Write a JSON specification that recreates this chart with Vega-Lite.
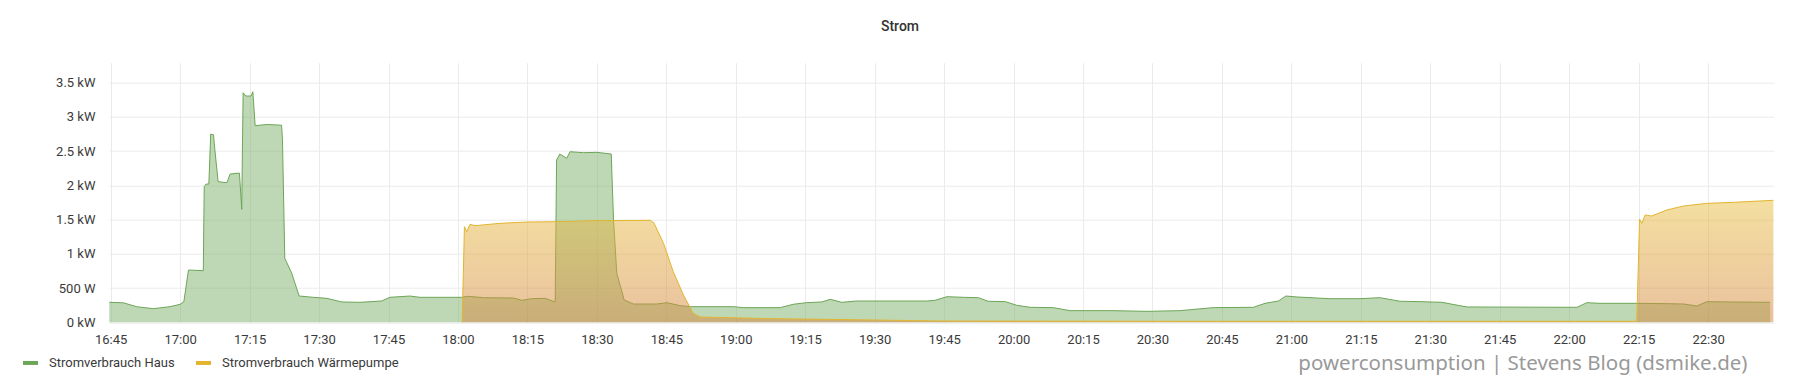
{
  "$schema": "https://vega.github.io/schema/vega-lite/v6.json",
  "width": 1665,
  "height": 259.6,
  "autosize": {"type": "none"},
  "padding": {"left": 109, "top": 62.7, "right": 26, "bottom": 66.7},
  "background": "#ffffff",
  "title": {
    "text": "Strom",
    "anchor": "middle",
    "dx": -41.5,
    "offset": 21.7,
    "baseline": "middle",
    "font": "Roboto",
    "fontSize": 14,
    "fontWeight": 500,
    "color": "#333333"
  },
  "config": {
    "view": {"stroke": null},
    "axis": {
      "labelFont": "Roboto",
      "labelFontSize": 13,
      "labelColor": "#3a3a3a",
      "gridColor": "#ebebeb",
      "gridWidth": 1,
      "domain": false,
      "ticks": false,
      "tickSize": 0
    },
    "legend": {
      "labelFont": "Roboto",
      "labelFontSize": 13,
      "labelColor": "#3a3a3a",
      "labelLimit": 400
    }
  },
  "data": {
    "values": [
      {"time": "2021-01-01T16:44:42", "power": 292, "series": "Stromverbrauch Haus"},
      {"time": "2021-01-01T16:47:42", "power": 285, "series": "Stromverbrauch Haus"},
      {"time": "2021-01-01T16:50:36", "power": 228, "series": "Stromverbrauch Haus"},
      {"time": "2021-01-01T16:54:12", "power": 199, "series": "Stromverbrauch Haus"},
      {"time": "2021-01-01T16:57:48", "power": 228, "series": "Stromverbrauch Haus"},
      {"time": "2021-01-01T17:00:00", "power": 263, "series": "Stromverbrauch Haus"},
      {"time": "2021-01-01T17:00:48", "power": 301, "series": "Stromverbrauch Haus"},
      {"time": "2021-01-01T17:01:48", "power": 764, "series": "Stromverbrauch Haus"},
      {"time": "2021-01-01T17:05:00", "power": 754, "series": "Stromverbrauch Haus"},
      {"time": "2021-01-01T17:05:12", "power": 1981, "series": "Stromverbrauch Haus"},
      {"time": "2021-01-01T17:05:36", "power": 2020, "series": "Stromverbrauch Haus"},
      {"time": "2021-01-01T17:06:12", "power": 2020, "series": "Stromverbrauch Haus"},
      {"time": "2021-01-01T17:06:36", "power": 2751, "series": "Stromverbrauch Haus"},
      {"time": "2021-01-01T17:07:12", "power": 2740, "series": "Stromverbrauch Haus"},
      {"time": "2021-01-01T17:07:30", "power": 2517, "series": "Stromverbrauch Haus"},
      {"time": "2021-01-01T17:08:12", "power": 2054, "series": "Stromverbrauch Haus"},
      {"time": "2021-01-01T17:10:06", "power": 2040, "series": "Stromverbrauch Haus"},
      {"time": "2021-01-01T17:10:48", "power": 2167, "series": "Stromverbrauch Haus"},
      {"time": "2021-01-01T17:12:48", "power": 2180, "series": "Stromverbrauch Haus"},
      {"time": "2021-01-01T17:13:00", "power": 1980, "series": "Stromverbrauch Haus"},
      {"time": "2021-01-01T17:13:18", "power": 1650, "series": "Stromverbrauch Haus"},
      {"time": "2021-01-01T17:13:36", "power": 3354, "series": "Stromverbrauch Haus"},
      {"time": "2021-01-01T17:14:12", "power": 3306, "series": "Stromverbrauch Haus"},
      {"time": "2021-01-01T17:15:18", "power": 3306, "series": "Stromverbrauch Haus"},
      {"time": "2021-01-01T17:15:42", "power": 3369, "series": "Stromverbrauch Haus"},
      {"time": "2021-01-01T17:16:12", "power": 2873, "series": "Stromverbrauch Haus"},
      {"time": "2021-01-01T17:18:42", "power": 2890, "series": "Stromverbrauch Haus"},
      {"time": "2021-01-01T17:21:54", "power": 2880, "series": "Stromverbrauch Haus"},
      {"time": "2021-01-01T17:22:06", "power": 2663, "series": "Stromverbrauch Haus"},
      {"time": "2021-01-01T17:22:36", "power": 935, "series": "Stromverbrauch Haus"},
      {"time": "2021-01-01T17:24:06", "power": 716, "series": "Stromverbrauch Haus"},
      {"time": "2021-01-01T17:25:42", "power": 384, "series": "Stromverbrauch Haus"},
      {"time": "2021-01-01T17:28:48", "power": 365, "series": "Stromverbrauch Haus"},
      {"time": "2021-01-01T17:31:42", "power": 350, "series": "Stromverbrauch Haus"},
      {"time": "2021-01-01T17:34:54", "power": 297, "series": "Stromverbrauch Haus"},
      {"time": "2021-01-01T17:38:48", "power": 292, "series": "Stromverbrauch Haus"},
      {"time": "2021-01-01T17:43:30", "power": 311, "series": "Stromverbrauch Haus"},
      {"time": "2021-01-01T17:45:18", "power": 365, "series": "Stromverbrauch Haus"},
      {"time": "2021-01-01T17:49:36", "power": 384, "series": "Stromverbrauch Haus"},
      {"time": "2021-01-01T17:51:48", "power": 365, "series": "Stromverbrauch Haus"},
      {"time": "2021-01-01T18:00:48", "power": 365, "series": "Stromverbrauch Haus"},
      {"time": "2021-01-01T18:02:12", "power": 380, "series": "Stromverbrauch Haus"},
      {"time": "2021-01-01T18:05:30", "power": 360, "series": "Stromverbrauch Haus"},
      {"time": "2021-01-01T18:12:00", "power": 355, "series": "Stromverbrauch Haus"},
      {"time": "2021-01-01T18:13:48", "power": 321, "series": "Stromverbrauch Haus"},
      {"time": "2021-01-01T18:15:54", "power": 345, "series": "Stromverbrauch Haus"},
      {"time": "2021-01-01T18:18:48", "power": 350, "series": "Stromverbrauch Haus"},
      {"time": "2021-01-01T18:21:00", "power": 297, "series": "Stromverbrauch Haus"},
      {"time": "2021-01-01T18:21:18", "power": 2371, "series": "Stromverbrauch Haus"},
      {"time": "2021-01-01T18:22:00", "power": 2459, "series": "Stromverbrauch Haus"},
      {"time": "2021-01-01T18:23:30", "power": 2396, "series": "Stromverbrauch Haus"},
      {"time": "2021-01-01T18:24:12", "power": 2493, "series": "Stromverbrauch Haus"},
      {"time": "2021-01-01T18:27:06", "power": 2478, "series": "Stromverbrauch Haus"},
      {"time": "2021-01-01T18:30:00", "power": 2483, "series": "Stromverbrauch Haus"},
      {"time": "2021-01-01T18:33:06", "power": 2459, "series": "Stromverbrauch Haus"},
      {"time": "2021-01-01T18:33:36", "power": 1495, "series": "Stromverbrauch Haus"},
      {"time": "2021-01-01T18:34:18", "power": 716, "series": "Stromverbrauch Haus"},
      {"time": "2021-01-01T18:35:54", "power": 326, "series": "Stromverbrauch Haus"},
      {"time": "2021-01-01T18:37:54", "power": 267, "series": "Stromverbrauch Haus"},
      {"time": "2021-01-01T18:42:54", "power": 267, "series": "Stromverbrauch Haus"},
      {"time": "2021-01-01T18:45:06", "power": 287, "series": "Stromverbrauch Haus"},
      {"time": "2021-01-01T18:48:00", "power": 243, "series": "Stromverbrauch Haus"},
      {"time": "2021-01-01T18:50:06", "power": 228, "series": "Stromverbrauch Haus"},
      {"time": "2021-01-01T18:59:30", "power": 228, "series": "Stromverbrauch Haus"},
      {"time": "2021-01-01T19:01:36", "power": 214, "series": "Stromverbrauch Haus"},
      {"time": "2021-01-01T19:09:36", "power": 214, "series": "Stromverbrauch Haus"},
      {"time": "2021-01-01T19:12:24", "power": 263, "series": "Stromverbrauch Haus"},
      {"time": "2021-01-01T19:15:18", "power": 287, "series": "Stromverbrauch Haus"},
      {"time": "2021-01-01T19:18:36", "power": 297, "series": "Stromverbrauch Haus"},
      {"time": "2021-01-01T19:20:24", "power": 336, "series": "Stromverbrauch Haus"},
      {"time": "2021-01-01T19:22:54", "power": 292, "series": "Stromverbrauch Haus"},
      {"time": "2021-01-01T19:26:06", "power": 311, "series": "Stromverbrauch Haus"},
      {"time": "2021-01-01T19:41:12", "power": 311, "series": "Stromverbrauch Haus"},
      {"time": "2021-01-01T19:43:00", "power": 320, "series": "Stromverbrauch Haus"},
      {"time": "2021-01-01T19:45:36", "power": 374, "series": "Stromverbrauch Haus"},
      {"time": "2021-01-01T19:49:12", "power": 365, "series": "Stromverbrauch Haus"},
      {"time": "2021-01-01T19:52:24", "power": 360, "series": "Stromverbrauch Haus"},
      {"time": "2021-01-01T19:54:30", "power": 307, "series": "Stromverbrauch Haus"},
      {"time": "2021-01-01T19:58:12", "power": 302, "series": "Stromverbrauch Haus"},
      {"time": "2021-01-01T20:00:42", "power": 248, "series": "Stromverbrauch Haus"},
      {"time": "2021-01-01T20:03:36", "power": 219, "series": "Stromverbrauch Haus"},
      {"time": "2021-01-01T20:08:36", "power": 214, "series": "Stromverbrauch Haus"},
      {"time": "2021-01-01T20:12:12", "power": 170, "series": "Stromverbrauch Haus"},
      {"time": "2021-01-01T20:21:30", "power": 170, "series": "Stromverbrauch Haus"},
      {"time": "2021-01-01T20:28:48", "power": 160, "series": "Stromverbrauch Haus"},
      {"time": "2021-01-01T20:35:54", "power": 170, "series": "Stromverbrauch Haus"},
      {"time": "2021-01-01T20:43:06", "power": 214, "series": "Stromverbrauch Haus"},
      {"time": "2021-01-01T20:51:48", "power": 219, "series": "Stromverbrauch Haus"},
      {"time": "2021-01-01T20:54:18", "power": 277, "series": "Stromverbrauch Haus"},
      {"time": "2021-01-01T20:57:12", "power": 311, "series": "Stromverbrauch Haus"},
      {"time": "2021-01-01T20:58:48", "power": 384, "series": "Stromverbrauch Haus"},
      {"time": "2021-01-01T21:01:12", "power": 370, "series": "Stromverbrauch Haus"},
      {"time": "2021-01-01T21:08:18", "power": 345, "series": "Stromverbrauch Haus"},
      {"time": "2021-01-01T21:14:48", "power": 345, "series": "Stromverbrauch Haus"},
      {"time": "2021-01-01T21:19:06", "power": 360, "series": "Stromverbrauch Haus"},
      {"time": "2021-01-01T21:23:30", "power": 307, "series": "Stromverbrauch Haus"},
      {"time": "2021-01-01T21:27:48", "power": 302, "series": "Stromverbrauch Haus"},
      {"time": "2021-01-01T21:32:30", "power": 292, "series": "Stromverbrauch Haus"},
      {"time": "2021-01-01T21:37:54", "power": 224, "series": "Stromverbrauch Haus"},
      {"time": "2021-01-01T22:01:42", "power": 219, "series": "Stromverbrauch Haus"},
      {"time": "2021-01-01T22:03:48", "power": 287, "series": "Stromverbrauch Haus"},
      {"time": "2021-01-01T22:06:42", "power": 277, "series": "Stromverbrauch Haus"},
      {"time": "2021-01-01T22:14:48", "power": 277, "series": "Stromverbrauch Haus"},
      {"time": "2021-01-01T22:21:06", "power": 272, "series": "Stromverbrauch Haus"},
      {"time": "2021-01-01T22:24:42", "power": 267, "series": "Stromverbrauch Haus"},
      {"time": "2021-01-01T22:27:36", "power": 238, "series": "Stromverbrauch Haus"},
      {"time": "2021-01-01T22:29:42", "power": 301, "series": "Stromverbrauch Haus"},
      {"time": "2021-01-01T22:35:30", "power": 297, "series": "Stromverbrauch Haus"},
      {"time": "2021-01-01T22:43:24", "power": 292, "series": "Stromverbrauch Haus"},
      {"time": "2021-01-01T18:00:54", "power": 0, "series": "Stromverbrauch Wärmepumpe"},
      {"time": "2021-01-01T18:01:24", "power": 1397, "series": "Stromverbrauch Wärmepumpe"},
      {"time": "2021-01-01T18:01:54", "power": 1324, "series": "Stromverbrauch Wärmepumpe"},
      {"time": "2021-01-01T18:02:36", "power": 1431, "series": "Stromverbrauch Wärmepumpe"},
      {"time": "2021-01-01T18:03:42", "power": 1412, "series": "Stromverbrauch Wärmepumpe"},
      {"time": "2021-01-01T18:09:06", "power": 1446, "series": "Stromverbrauch Wärmepumpe"},
      {"time": "2021-01-01T18:14:48", "power": 1465, "series": "Stromverbrauch Wärmepumpe"},
      {"time": "2021-01-01T18:21:18", "power": 1470, "series": "Stromverbrauch Wärmepumpe"},
      {"time": "2021-01-01T18:29:36", "power": 1485, "series": "Stromverbrauch Wärmepumpe"},
      {"time": "2021-01-01T18:41:30", "power": 1490, "series": "Stromverbrauch Wärmepumpe"},
      {"time": "2021-01-01T18:42:18", "power": 1455, "series": "Stromverbrauch Wärmepumpe"},
      {"time": "2021-01-01T18:44:24", "power": 1154, "series": "Stromverbrauch Wärmepumpe"},
      {"time": "2021-01-01T18:46:30", "power": 739, "series": "Stromverbrauch Wärmepumpe"},
      {"time": "2021-01-01T18:48:42", "power": 399, "series": "Stromverbrauch Wärmepumpe"},
      {"time": "2021-01-01T18:50:48", "power": 131, "series": "Stromverbrauch Wärmepumpe"},
      {"time": "2021-01-01T18:52:18", "power": 77, "series": "Stromverbrauch Wärmepumpe"},
      {"time": "2021-01-01T19:08:06", "power": 53, "series": "Stromverbrauch Wärmepumpe"},
      {"time": "2021-01-01T19:29:42", "power": 34, "series": "Stromverbrauch Wärmepumpe"},
      {"time": "2021-01-01T19:44:06", "power": 19, "series": "Stromverbrauch Wärmepumpe"},
      {"time": "2021-01-01T20:35:00", "power": 15, "series": "Stromverbrauch Wärmepumpe"},
      {"time": "2021-01-01T22:14:36", "power": 15, "series": "Stromverbrauch Wärmepumpe"},
      {"time": "2021-01-01T22:15:12", "power": 1509, "series": "Stromverbrauch Wärmepumpe"},
      {"time": "2021-01-01T22:15:42", "power": 1446, "series": "Stromverbrauch Wärmepumpe"},
      {"time": "2021-01-01T22:16:24", "power": 1568, "series": "Stromverbrauch Wärmepumpe"},
      {"time": "2021-01-01T22:17:48", "power": 1553, "series": "Stromverbrauch Wärmepumpe"},
      {"time": "2021-01-01T22:21:06", "power": 1641, "series": "Stromverbrauch Wärmepumpe"},
      {"time": "2021-01-01T22:24:42", "power": 1699, "series": "Stromverbrauch Wärmepumpe"},
      {"time": "2021-01-01T22:29:42", "power": 1738, "series": "Stromverbrauch Wärmepumpe"},
      {"time": "2021-01-01T22:35:30", "power": 1753, "series": "Stromverbrauch Wärmepumpe"},
      {"time": "2021-01-01T22:44:06", "power": 1782, "series": "Stromverbrauch Wärmepumpe"}
    ]
  },
  "encoding": {
    "x": {
      "field": "time",
      "type": "temporal",
      "scale": {
        "domain": [
          {"year": 2021, "month": 1, "date": 1, "hours": 16, "minutes": 44, "seconds": 38},
          {"year": 2021, "month": 1, "date": 1, "hours": 22, "minutes": 44, "seconds": 14}
        ]
      },
      "axis": {
        "format": "%H:%M",
        "tickCount": 24,
        "labelPadding": 11,
        "labelFlush": false,
        "labelOverlap": false,
        "title": "powerconsumption | Stevens Blog (dsmike.de)",
        "titleFont": "Noto Sans",
        "titleFontSize": 20.5,
        "titleFontWeight": "normal",
        "titleColor": "#999999",
        "titleAlign": "right",
        "titleBaseline": "middle",
        "titleX": 1638,
        "titleY": 41
      }
    },
    "y": {
      "field": "power",
      "type": "quantitative",
      "scale": {"domain": [0, 3793], "nice": false},
      "axis": {
        "values": [0, 500, 1000, 1500, 2000, 2500, 3000, 3500],
        "labelExpr": "datum.value == 0 ? '0 kW' : (datum.value < 1000 ? datum.value + ' W' : (datum.value / 1000) + ' kW')",
        "labelPadding": 14,
        "title": null
      }
    }
  },
  "layer": [
    {
      "transform": [{"filter": "datum.series == 'Stromverbrauch Haus'"}],
      "mark": {"type": "area", "fill": "#7EB26D", "fillOpacity": 0.5},
      "encoding": {}
    },
    {
      "transform": [{"filter": "datum.series == 'Stromverbrauch Haus'"}],
      "mark": {"type": "line", "strokeWidth": 1},
      "encoding": {
        "color": {
          "field": "series",
          "type": "nominal",
          "scale": {
            "domain": ["Stromverbrauch Haus", "Stromverbrauch Wärmepumpe"],
            "range": ["#6ca657", "#e3b52f"]
          },
          "legend": {
            "title": null,
            "orient": "none",
            "direction": "horizontal",
            "legendX": -88,
            "legendY": 290.5,
            "symbolType": "stroke",
            "symbolSize": 225,
            "symbolStrokeWidth": 4,
            "labelOffset": 9,
            "columnPadding": 13
          }
        }
      }
    },
    {
      "transform": [{"filter": "datum.series == 'Stromverbrauch Wärmepumpe'"}],
      "mark": {
        "type": "area",
        "opacity": 0.5,
        "color": {
          "x1": 1, "y1": 1, "x2": 1, "y2": 0,
          "gradient": "linear",
          "stops": [
            {"offset": 0, "color": "#D5843C"},
            {"offset": 1, "color": "#E8BE3F"}
          ]
        }
      },
      "encoding": {}
    },
    {
      "transform": [{"filter": "datum.series == 'Stromverbrauch Wärmepumpe'"}],
      "mark": {"type": "line", "strokeWidth": 1},
      "encoding": {
        "color": {"field": "series", "type": "nominal"}
      }
    }
  ]
}
